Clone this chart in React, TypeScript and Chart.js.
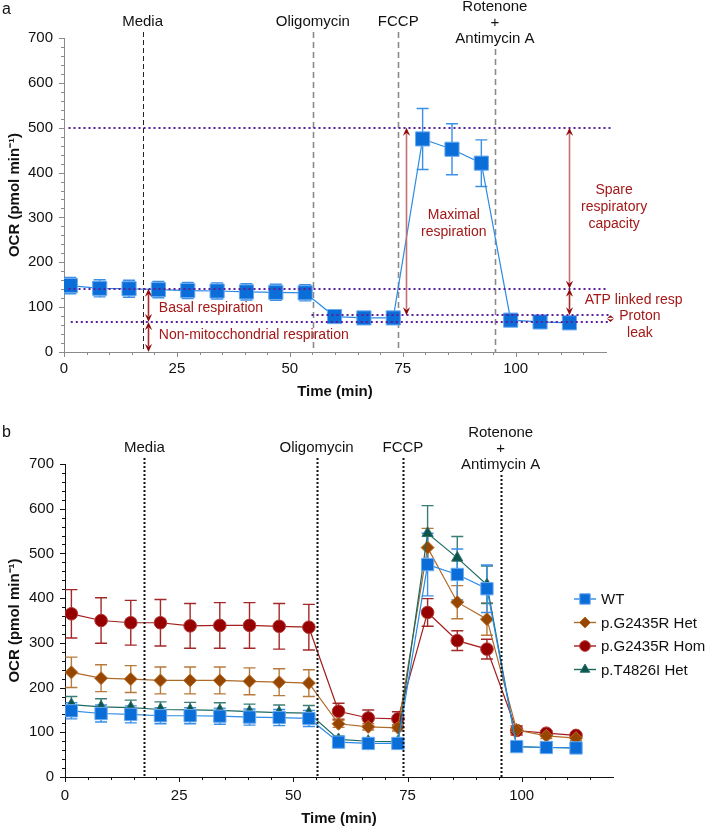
import React, { useEffect, useRef } from "react";
import { Chart, registerables } from "chart.js";
import { drawPoint } from "chart.js/helpers";

Chart.register(...registerables);

const FONT = "'Liberation Sans', Arial, Helvetica, sans-serif";

// Measurement times (min)
const timeMin = [1.4, 7.9, 14.4, 20.9, 27.4, 33.9, 40.4, 46.9, 53.4, 59.9, 66.4, 72.9, 79.4, 85.9, 92.4, 98.9, 105.4, 111.9];

// Panel a – WT
const wtA = [148, 142, 141, 139, 137, 136, 134, 133, 132, 79, 76, 76, 475, 452, 421, 71, 67, 65];
const wtAErr = [18, 19, 19, 18, 18, 18, 18, 18, 18, 8, 7, 7, 68, 57, 52, 6, 5, 5];

// Panel b
const wtB = [148, 142, 140, 137, 137, 136, 134, 133, 131, 78, 75, 75, 475, 453, 421, 68, 66, 65];
const wtBErr = [18, 19, 19, 18, 18, 18, 18, 18, 18, 8, 7, 7, 70, 57, 53, 6, 5, 5];
const hetB = [234, 221, 219, 216, 216, 216, 214, 212, 210, 119, 112, 110, 513, 391, 353, 105, 92, 87];
const hetBErr = [34, 30, 30, 30, 30, 30, 30, 30, 30, 8, 7, 7, 43, 37, 36, 10, 6, 6];
const homB = [365, 350, 345, 345, 338, 339, 339, 337, 335, 147, 132, 130, 368, 305, 286, 104, 98, 93];
const homBErr = [54, 51, 50, 52, 50, 51, 51, 51, 51, 18, 18, 16, 31, 22, 22, 10, 5, 5];
const t4826B = [162, 157, 155, 151, 150, 149, 146, 144, 143, 84, 80, 79, 545, 490, 430, 68, 66, 65];
const t4826BErr = [18, 18, 17, 17, 17, 17, 17, 17, 17, 8, 6, 6, 62, 48, 42, 6, 5, 5];

const seriesLabels = ["WT", "p.G2435R Het", "p.G2435R Hom", "p.T4826I Het"];

// Injections
const injectionTimes = [17.4, 55.1, 74, 95.4];
const injectionLabels = [["Media"], ["Oligomycin"], ["FCCP"], ["Rotenone", "+", "Antimycin A"]];

// Panel a reference levels (dotted purple)
const refLevels = [500, 141, 82, 67];
const refStart = [1, 1, 54.8, 1.5];
const refEnd = [121, 120.5, 121, 121];

// Panel a arrows
const arrowX = [18.6, 18.6, 75.7, 111.7, 111.7, 120.9];
const arrowFrom = [141, 67, 82, 141, 82, 67];
const arrowTo = [67, 0, 500, 500, 141, 82];

// Panel a annotation texts
const noteText = [
  ["Basal respiration"],
  ["Non-mitocchondrial respiration"],
  ["Maximal", "respiration"],
  ["Spare", "respiratory", "capacity"],
  ["ATP linked resp"],
  ["Proton", "leak"],
];
const noteX = [21, 21, 86.3, 121.8, 115.3, 127.5];
const noteY = [98, 38, 305, 361, 116, 80];
const noteAlign = ["left", "left", "center", "center", "left", "center"];

const pts = (vals: number[]) => timeMin.map((t, i) => ({ x: t, y: vals[i] }));

function scaleOpts(axisColor: string, yWidth: number, xHeight: number, tickPad: number, titlePad: number) {
  const tickFont = { family: FONT, size: 15 };
  const grid = { drawOnChartArea: false, drawTicks: true, tickLength: 5, color: "rgba(0,0,0,0)" };
  return {
    x: {
      type: "linear",
      min: 0,
      max: 120,
      ticks: { stepSize: 25, includeBounds: false, color: "#111", font: tickFont, padding: tickPad, maxRotation: 0, autoSkip: false },
      grid,
      border: { display: true, color: axisColor, width: 1 },
      title: { display: true, text: "Time (min)", color: "#111", font: { family: FONT, size: 15, weight: "bold" }, padding: { top: 0, bottom: titlePad } },
      afterFit: (s: any) => { s.height = xHeight; },
    },
    y: {
      type: "linear",
      min: 0,
      max: 700,
      ticks: { stepSize: 100, color: "#111", font: tickFont, padding: 6 },
      grid,
      border: { display: true, color: axisColor, width: 1 },
      title: { display: true, text: "OCR (pmol min\u207B\u00B9)", color: "#111", font: { family: FONT, size: 15, weight: "bold" }, padding: { top: 6, bottom: 0 } },
      afterFit: (s: any) => { s.width = yWidth; },
    },
  };
}

const errorBars = (cap: number) => ({
  id: "errorBars",
  beforeDatasetsDraw(chart: any) {
    const { ctx } = chart;
    const xs = chart.scales.x, ys = chart.scales.y;
    ctx.save();
    ctx.setLineDash([]);
    ctx.lineWidth = 1.4;
    const dss = chart.data.datasets;
    const idx = dss.map((_: any, i: number) => i).sort((a: number, b: number) => (dss[b].order ?? 0) - (dss[a].order ?? 0));
    for (const i of idx) {
      const ds = dss[i];
      ctx.strokeStyle = ds.errColor;
      ds.data.forEach((p: any, j: number) => {
        const e = ds.errors[j];
        const x = xs.getPixelForValue(p.x);
        const y1 = ys.getPixelForValue(p.y + e);
        const y2 = ys.getPixelForValue(p.y - e);
        ctx.beginPath();
        ctx.moveTo(x, y1); ctx.lineTo(x, y2);
        ctx.moveTo(x - cap / 2, y1); ctx.lineTo(x + cap / 2, y1);
        ctx.moveTo(x - cap / 2, y2); ctx.lineTo(x + cap / 2, y2);
        ctx.stroke();
      });
    }
    ctx.restore();
  },
});

function drawAxisTicks(chart: any, color: string) {
  const { ctx, chartArea } = chart;
  const xs = chart.scales.x, ys = chart.scales.y;
  ctx.save();
  ctx.strokeStyle = color;
  ctx.lineWidth = 1;
  ctx.setLineDash([]);
  for (let v = 0; v <= 700; v += 20) {
    const py = Math.round(ys.getPixelForValue(v)) + 0.5;
    const len = v % 100 === 0 ? 5 : 3;
    ctx.beginPath();
    ctx.moveTo(chartArea.left - len, py);
    ctx.lineTo(chartArea.left, py);
    ctx.stroke();
  }
  for (let v = 0; v <= 115; v += 5) {
    const px = Math.round(xs.getPixelForValue(v)) + 0.5;
    const len = v % 25 === 0 ? 5 : 3;
    ctx.beginPath();
    ctx.moveTo(px, chartArea.bottom);
    ctx.lineTo(px, chartArea.bottom + len);
    ctx.stroke();
  }
  ctx.restore();
}

function drawInjectionLabels(chart: any) {
  const { ctx, chartArea } = chart;
  const xs = chart.scales.x;
  ctx.save();
  ctx.fillStyle = "#111";
  ctx.font = `15px ${FONT}`;
  ctx.textAlign = "center";
  ctx.textBaseline = "middle";
  injectionTimes.forEach((t, i) => {
    const x = xs.getPixelForValue(t);
    const lines = injectionLabels[i];
    if (lines.length === 1) {
      ctx.fillText(lines[0], x, chartArea.top - 16.5);
    } else {
      ctx.fillText(lines[0], x, chartArea.top - 31);
      ctx.fillText(lines[1], x, chartArea.top - 15.5);
      ctx.fillText(lines[2], x, chartArea.top + 0.5);
    }
  });
  ctx.restore();
}

function drawInjectionLines(chart: any, styles: { color: string; dash: number[]; width: number }[]) {
  const { ctx, chartArea } = chart;
  const xs = chart.scales.x;
  ctx.save();
  injectionTimes.forEach((t, i) => {
    const st = styles[i];
    const x = Math.round(xs.getPixelForValue(t)) + 0.5;
    const top = injectionLabels[i].length > 1 ? chartArea.top + 11 : chartArea.top - 6;
    ctx.strokeStyle = st.color;
    ctx.lineWidth = st.width;
    ctx.setLineDash(st.dash);
    ctx.beginPath();
    ctx.moveTo(x, top);
    ctx.lineTo(x, chartArea.bottom);
    ctx.stroke();
  });
  ctx.restore();
}

function arrowHead(ctx: any, x: number, tipY: number, dir: number, hl: number) {
  const hw = 3.6;
  ctx.beginPath();
  ctx.moveTo(x, tipY);
  ctx.lineTo(x - hw, tipY - dir * hl);
  ctx.lineTo(x, tipY - dir * hl * 0.65);
  ctx.lineTo(x + hw, tipY - dir * hl);
  ctx.closePath();
  ctx.fill();
}

const panelA = {
  id: "panelA",
  beforeDatasetsDraw(chart: any) {
    drawInjectionLines(chart, [
      { color: "#222", dash: [5, 3], width: 1 },
      { color: "#8a8a8a", dash: [6, 4], width: 1.6 },
      { color: "#8a8a8a", dash: [6, 4], width: 1.6 },
      { color: "#8a8a8a", dash: [6, 4], width: 1.6 },
    ]);
  },
  afterDatasetsDraw(chart: any) {
    const { ctx } = chart;
    const xs = chart.scales.x, ys = chart.scales.y;
    ctx.save();
    // dotted reference lines
    ctx.strokeStyle = "#5a1f9e";
    ctx.lineWidth = 2;
    ctx.setLineDash([2, 3]);
    refLevels.forEach((v, i) => {
      const y = Math.round(ys.getPixelForValue(v));
      ctx.beginPath();
      ctx.moveTo(xs.getPixelForValue(refStart[i]), y);
      ctx.lineTo(xs.getPixelForValue(refEnd[i]), y);
      ctx.stroke();
    });
    ctx.setLineDash([]);
    // arrows
    arrowX.forEach((xv, i) => {
      const x = Math.round(xs.getPixelForValue(xv)) + 0.5;
      const ya = ys.getPixelForValue(arrowFrom[i]);
      const yb = ys.getPixelForValue(arrowTo[i]);
      const span = Math.abs(yb - ya);
      const hl = Math.min(8, span / 2);
      const dir = yb > ya ? 1 : -1;
      ctx.strokeStyle = span > 100 ? "#c27272" : "#a82a2a";
      ctx.lineWidth = 1.6;
      if (span > 2 * hl) {
        ctx.beginPath();
        ctx.moveTo(x, ya + dir * hl * 0.7);
        ctx.lineTo(x, yb - dir * hl * 0.7);
        ctx.stroke();
      }
      ctx.fillStyle = "#8e0b0b";
      arrowHead(ctx, x, ya, -dir, hl);
      arrowHead(ctx, x, yb, dir, hl);
    });
    // notes
    ctx.fillStyle = "#a31818";
    ctx.font = `14px ${FONT}`;
    ctx.textBaseline = "middle";
    noteText.forEach((lines, i) => {
      ctx.textAlign = noteAlign[i] as CanvasTextAlign;
      const x = xs.getPixelForValue(noteX[i]);
      const y0 = ys.getPixelForValue(noteY[i]);
      lines.forEach((s, k) => ctx.fillText(s, x, y0 + k * 16.8));
    });
    ctx.restore();
  },
  afterDraw(chart: any) {
    drawAxisTicks(chart, "#8a8a8a");
    drawInjectionLabels(chart);
    const { ctx } = chart;
    ctx.save();
    ctx.fillStyle = "#111";
    ctx.font = `16px ${FONT}`;
    ctx.textBaseline = "middle";
    ctx.textAlign = "left";
    ctx.fillText("a", 2, 10);
    ctx.restore();
  },
};

const panelB = {
  id: "panelB",
  afterDatasetsDraw(chart: any) {
    drawInjectionLines(chart, [
      { color: "#111", dash: [2, 2], width: 2 },
      { color: "#111", dash: [2, 2], width: 2 },
      { color: "#111", dash: [2, 2], width: 2 },
      { color: "#111", dash: [2, 2], width: 2 },
    ]);
  },
  afterDraw(chart: any) {
    drawAxisTicks(chart, "#111");
    drawInjectionLabels(chart);
    const { ctx } = chart;
    ctx.save();
    ctx.fillStyle = "#111";
    ctx.font = `16px ${FONT}`;
    ctx.textBaseline = "middle";
    ctx.textAlign = "left";
    ctx.fillText("b", 2, 28);
    // legend
    const lx = 585, ly0 = 194, dy = 23.5;
    chart.data.datasets.forEach((ds: any, i: number) => {
      const y = ly0 + i * dy;
      ctx.strokeStyle = ds.borderColor;
      ctx.lineWidth = 1.4;
      ctx.setLineDash([]);
      ctx.beginPath();
      ctx.moveTo(lx - 11, y);
      ctx.lineTo(lx + 11, y);
      ctx.stroke();
      ctx.fillStyle = ds.pointBackgroundColor;
      ctx.strokeStyle = ds.pointBorderColor;
      ctx.lineWidth = 1;
      drawPoint(ctx, { pointStyle: ds.pointStyle, radius: ds.pointRadius * 0.85, rotation: 0, borderWidth: 1 }, lx, y);
      ctx.fillStyle = "#111";
      ctx.font = `15px ${FONT}`;
      ctx.textAlign = "left";
      ctx.textBaseline = "middle";
      ctx.fillText(ds.label, lx + 16, y + 1);
    });
    ctx.restore();
  },
};

function lineDataset(label: string, vals: number[], errs: number[], o: any) {
  return {
    label,
    data: pts(vals),
    errors: errs,
    showLine: true,
    borderWidth: 1.2,
    pointBorderWidth: 1,
    pointHoverRadius: o.pointRadius,
    ...o,
  };
}

export default function App() {
  const topRef = useRef<HTMLCanvasElement>(null);
  const botRef = useRef<HTMLCanvasElement>(null);

  useEffect(() => {
    const common = {
      responsive: false,
      animation: false,
      events: [],
      plugins: { legend: { display: false }, tooltip: { enabled: false } },
    };
    const c1 = new Chart(topRef.current as HTMLCanvasElement, {
      type: "scatter",
      data: {
        datasets: [
          lineDataset(seriesLabels[0], wtA, wtAErr, {
            borderColor: "#2b8be6", errColor: "#3a8fe6", pointStyle: "rect", pointRadius: 10,
            pointBackgroundColor: "#0b6dd8", pointBorderColor: "#6aaaf0",
          }),
        ],
      } as any,
      options: {
        ...common,
        layout: { padding: { left: 0, right: 102, top: 38, bottom: 0 } },
        scales: scaleOpts("#8a8a8a", 64, 53, 3, 4),
      } as any,
      plugins: [errorBars(12), panelA],
    });
    const c2 = new Chart(botRef.current as HTMLCanvasElement, {
      type: "scatter",
      data: {
        datasets: [
          lineDataset(seriesLabels[0], wtB, wtBErr, {
            order: 0, borderColor: "#2b8be6", errColor: "#3a8fe6", pointStyle: "rect", pointRadius: 8.7,
            pointBackgroundColor: "#0b6dd8", pointBorderColor: "#6aaaf0",
          }),
          lineDataset(seriesLabels[1], hetB, hetBErr, {
            order: 2, borderColor: "#b06a28", errColor: "#b87a3c", pointStyle: "rectRot", pointRadius: 6.5,
            pointBackgroundColor: "#974600", pointBorderColor: "#b8702e",
          }),
          lineDataset(seriesLabels[2], homB, homBErr, {
            order: 3, borderColor: "#a51c1c", errColor: "#a52828", pointStyle: "circle", pointRadius: 6.3,
            pointBackgroundColor: "#970000", pointBorderColor: "#b23a3a",
          }),
          lineDataset(seriesLabels[3], t4826B, t4826BErr, {
            order: 1, borderColor: "#1b6a62", errColor: "#3a7d76", pointStyle: "triangle", pointRadius: 6.5,
            pointBackgroundColor: "#0b554e", pointBorderColor: "#2b7068",
          }),
        ],
      } as any,
      options: {
        ...common,
        layout: { padding: { left: 0, right: 95, top: 59, bottom: 0 } },
        scales: scaleOpts("#111", 65, 53, 5, 2),
      } as any,
      plugins: [errorBars(12), panelB],
    });
    return () => {
      c1.destroy();
      c2.destroy();
    };
  }, []);

  return (
    <div style={{ position: "absolute", left: 0, top: 0, width: 708, height: 830, background: "#fff" }}>
      <canvas ref={topRef} width={708} height={405} style={{ position: "absolute", left: 0, top: 0, width: 708, height: 405 }} />
      <canvas ref={botRef} width={708} height={425} style={{ position: "absolute", left: 0, top: 405, width: 708, height: 425 }} />
    </div>
  );
}
